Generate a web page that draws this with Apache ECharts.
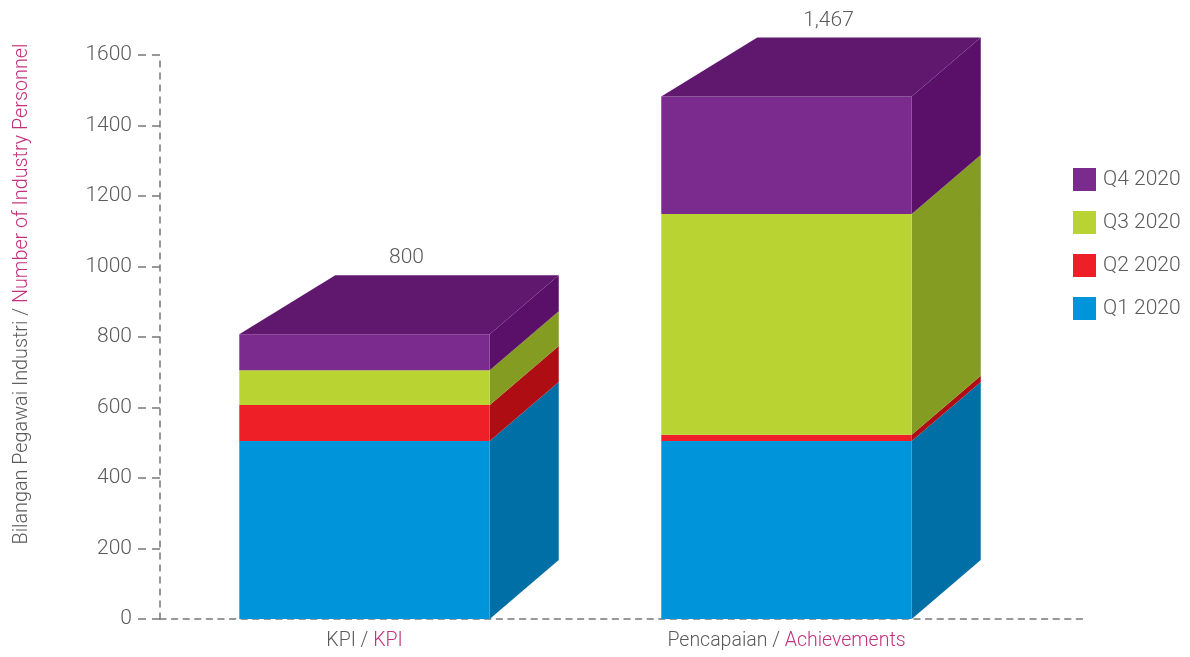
<!DOCTYPE html>
<html><head><meta charset="utf-8">
<style>html,body{margin:0;padding:0;background:#fff}#c{width:1190px;height:657px}</style>
<script src="https://cdn.jsdelivr.net/npm/echarts@6/dist/echarts.min.js"></script>
</head><body><div id="c"></div>
<script>
const catsMalay = ['KPI', 'Pencapaian'];
const catsEnglish = ['KPI', 'Achievements'];
const q1 = [505, 505];
const q2 = [102, 18];
const q3 = [99, 626];
const q4 = [102, 333];
const totals = ['800', '1,467'];
const seriesNames = ['Q1 2020', 'Q2 2020', 'Q3 2020', 'Q4 2020'];
const seriesValues = [q1, q2, q3, q4];
const frontColors = ['#0095DA', '#EE1F26', '#B9D432', '#7B2A8E'];
const sideColors = ['#006FA6', '#AE0E13', '#849C22', '#5A1069'];
const topColor = '#60186F';
const yTitleMalay = 'Bilangan Pegawai Industri / ';
const yTitleEnglish = 'Number of Industry Personnel';

const FONT = 'Roboto,"Open Sans",sans-serif';
const WEIGHT = 300;
const GREY = '#5A5A5A', PINK = '#C2317E', AXIS = '#777777';
const DEPTH_X = 69, DEPTH_Y = 59, TOP_LEFT_X = 96, BAR_RATIO = 0.5935;

function makeSeries(si) {
  const data = catsMalay.map((c, i) => {
    let start = 0;
    for (let k = 0; k < si; k++) start += seriesValues[k][i];
    return [i, start, start + seriesValues[si][i]];
  });
  return {
    type: 'custom', name: seriesNames[si], xAxisIndex: 0, yAxisIndex: 0,
    itemStyle: { color: frontColors[si] }, z: 5,
    encode: { x: 0, y: [1, 2] },
    data: data,
    renderItem(params, api) {
      const i = api.value(0);
      const c = api.coord([i, api.value(1)]), t = api.coord([i, api.value(2)]);
      const w = api.size([1, 0])[0] * BAR_RATIO;
      const x0 = c[0] - w / 2, x1 = c[0] + w / 2, yb = c[1], yt = t[1];
      const kids = [
        { type: 'polygon', shape: { points: [[x1, yb], [x1 + DEPTH_X, yb - DEPTH_Y], [x1 + DEPTH_X, yt - DEPTH_Y], [x1, yt]] }, style: { fill: sideColors[si] } },
        { type: 'rect', shape: { x: x0, y: yt, width: w, height: yb - yt }, style: { fill: frontColors[si] } }
      ];
      if (si === seriesValues.length - 1) {
        kids.push({ type: 'polygon', shape: { points: [[x0, yt], [x0 + TOP_LEFT_X, yt - DEPTH_Y], [x1 + DEPTH_X, yt - DEPTH_Y], [x1, yt]] }, style: { fill: topColor } });
        kids.push({ type: 'text', style: { x: c[0] + 42, y: yt - DEPTH_Y - 17, text: totals[i], fill: GREY, font: WEIGHT + ' 21px ' + FONT, align: 'center', verticalAlign: 'middle' } });
      }
      return { type: 'group', children: kids };
    }
  };
}

const chart = echarts.init(document.getElementById('c'), null, { renderer: 'canvas' });
const richStyle = c => ({ color: c, fontSize: 19.5, fontFamily: FONT, fontWeight: WEIGHT });
chart.setOption({
  animation: false,
  backgroundColor: '#fff',
  textStyle: { fontFamily: FONT },
  grid: [
    { left: 153.5, top: 55, width: 844, height: 564 },
    { left: 160, top: 55, width: 923, height: 564 }
  ],
  xAxis: [
    { type: 'category', gridIndex: 0, data: catsMalay,
      axisLine: { show: false }, axisTick: { show: false },
      axisLabel: { margin: 12, interval: 0,
        formatter: (v, i) => '{g|' + catsMalay[i] + ' / }{p|' + catsEnglish[i] + '}',
        rich: { g: richStyle(GREY), p: richStyle(PINK) } } },
    { type: 'value', gridIndex: 1, min: 0, max: 1, splitLine: { show: false },
      axisLabel: { show: false }, axisTick: { show: false },
      axisLine: { show: true, lineStyle: { color: AXIS, width: 1.5, type: [6, 5.6] } } }
  ],
  yAxis: [
    { type: 'value', gridIndex: 0, min: 0, max: 1600, show: false },
    { type: 'value', gridIndex: 1, min: 0, max: 1600, interval: 200, splitLine: { show: false },
      axisLine: { show: true, lineStyle: { color: AXIS, width: 1.5, type: [6, 6] } },
      axisTick: { show: true, length: 22, lineStyle: { color: AXIS, width: 1.5, type: [8, 6] } },
      axisLabel: { margin: 28, color: GREY, fontSize: 21, fontFamily: FONT, fontWeight: WEIGHT, padding: [6, 0, 0, 0],
        formatter: v => String(v) } }
  ],
  legend: {
    orient: 'vertical', left: 1068, top: 163, itemWidth: 23, itemHeight: 23, itemGap: 20,
    icon: 'rect', data: seriesNames.slice().reverse(),
    textStyle: { color: GREY, fontSize: 21, fontFamily: FONT, fontWeight: WEIGHT, padding: [5, 0, 0, 2] }
  },
  graphic: [{
    type: 'text', rotation: Math.PI / 2, silent: true,
    x: 22, y: 294,
    style: { text: '{g|' + yTitleMalay + '}{p|' + yTitleEnglish + '}', align: 'center', verticalAlign: 'middle',
      rich: { g: { fill: GREY, fontSize: 19.8, fontFamily: FONT, fontWeight: WEIGHT }, p: { fill: PINK, fontSize: 19.8, fontFamily: FONT, fontWeight: WEIGHT } } }
  }],
  series: seriesValues.map((v, si) => makeSeries(si))
});
</script></body></html>
